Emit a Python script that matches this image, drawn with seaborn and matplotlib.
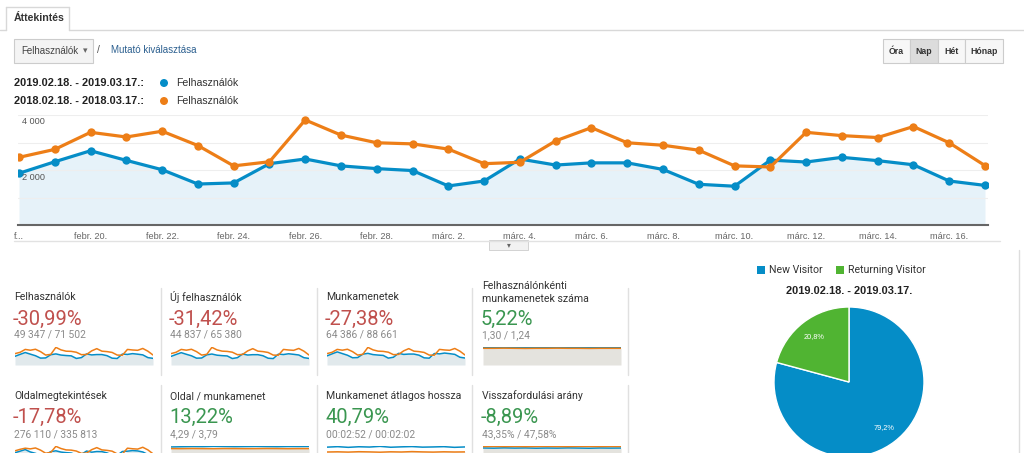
import numpy as np
import pandas as pd
import matplotlib
matplotlib.use("Agg")
import matplotlib.pyplot as plt
import seaborn as sns
from matplotlib.patches import Rectangle, Ellipse
from matplotlib.lines import Line2D

# ---------------- data ----------------
tick_labels = ["f...", "febr. 20.", "febr. 22.", "febr. 24.", "febr. 26.", "febr. 28.",
               "márc. 2.", "márc. 4.", "márc. 6.", "márc. 8.", "márc. 10.", "márc. 12.",
               "márc. 14.", "márc. 16."]
period_cur = "2019.02.18. - 2019.03.17."
period_prev = "2018.02.18. - 2018.03.17."
users_2019 = [1880, 2300, 2700, 2350, 2010, 1490, 1530, 2230, 2400, 2150, 2050, 1980, 1420, 1600,
              2400, 2180, 2260, 2260, 2020, 1480, 1410, 2360, 2290, 2460, 2340, 2190, 1600, 1440]
users_2018 = [2460, 2750, 3370, 3200, 3410, 2890, 2150, 2300, 3820, 3270, 2990, 2950, 2760, 2230,
              2280, 3060, 3540, 2990, 2900, 2720, 2150, 2110, 3370, 3250, 3180, 3580, 2990, 2160]
y_ticks = [2000, 4000]
y_tick_labels = ["2 000", "4 000"]

tile_titles = ["Felhasználók", "Új felhasználók", "Munkamenetek", "Felhasználónkénti\nmunkamenetek száma",
               "Oldalmegtekintések", "Oldal / munkamenet", "Munkamenet átlagos hossza", "Visszafordulási arány"]
tile_changes = ["-30,99%", "-31,42%", "-27,38%", "5,22%", "-17,78%", "13,22%", "40,79%", "-8,89%"]
tile_good = [False, False, False, True, False, True, True, True]
tile_values = ["49 347 / 71 502", "44 837 / 65 380", "64 386 / 88 661", "1,30 / 1,24",
               "276 110 / 335 813", "4,29 / 3,79", "00:02:52 / 00:02:02", "43,35% / 47,58%"]

new_users_2019 = [1700, 2080, 2440, 2120, 1820, 1350, 1380, 2010, 2170, 1940, 1850, 1790, 1280, 1450,
                  2170, 1970, 2040, 2040, 1830, 1340, 1270, 2140, 2070, 2220, 2110, 1980, 1450, 1300]
new_users_2018 = [2250, 2520, 3080, 2930, 3110, 2640, 1960, 2110, 3490, 2990, 2740, 2690, 2530, 2040,
                  2080, 2790, 3230, 2740, 2650, 2480, 1960, 1930, 3080, 2970, 2900, 3270, 2740, 1970]
sessions_2019 = [2440, 2990, 3510, 3060, 2620, 1940, 1990, 2900, 3120, 2790, 2660, 2570, 1840, 2080,
                 3120, 2840, 2930, 2930, 2630, 1920, 1830, 3070, 2980, 3200, 3040, 2850, 2080, 1870]
sessions_2018 = [3050, 3410, 4180, 3970, 4220, 3580, 2660, 2860, 4730, 4060, 3710, 3650, 3430, 2770,
                 2830, 3790, 4390, 3710, 3590, 3370, 2660, 2620, 4180, 4030, 3940, 4430, 3710, 2680]
spu_2019 = [1.30, 1.31, 1.29, 1.30, 1.30, 1.31, 1.30, 1.29, 1.30, 1.31, 1.30, 1.30, 1.29, 1.30]
spu_2018 = [1.24, 1.24, 1.25, 1.24, 1.23, 1.24, 1.24, 1.25, 1.24, 1.24, 1.23, 1.24, 1.24, 1.24]
pv_2019 = [9800, 11200, 12600, 10500, 9300, 7600, 8200, 10800, 11500, 10400, 9900, 9600, 7900, 8400,
           11300, 10300, 10900, 10800, 9700, 7800, 7600, 10900, 11200, 11700, 11400, 10500, 8300, 7400]
pv_2018 = [11500, 12800, 13800, 13200, 14000, 12100, 9400, 10100, 15400, 13500, 12300, 12100, 11300, 9300,
           9500, 12500, 14300, 12300, 11900, 11200, 8800, 8700, 13800, 13300, 13000, 14600, 12300, 8900]
pps_2019 = [4.20, 4.25, 4.30, 4.28, 4.35, 4.31, 4.27, 4.30, 4.33, 4.29, 4.26, 4.31, 4.30, 4.32]
pps_2018 = [3.80, 3.78, 3.82, 3.79, 3.77, 3.81, 3.80, 3.78, 3.79, 3.82, 3.80, 3.77, 3.79, 3.80]
dur_2019 = [170, 175, 168, 174, 171, 178, 169, 173, 176, 170, 172, 175, 168, 172]
dur_2018 = [121, 123, 120, 124, 122, 119, 123, 121, 125, 122, 120, 123, 121, 122]
bounce_2019 = [43.5, 43.0, 43.8, 43.2, 43.6, 42.9, 43.4, 43.1, 43.7, 43.3, 42.8, 43.5, 43.2, 43.4]
bounce_2018 = [47.4, 47.8, 47.5, 47.7, 47.3, 47.6, 47.9, 47.5, 47.4, 47.8, 47.6, 47.5, 47.7, 47.6]
spark_cur = [users_2019, new_users_2019, sessions_2019, spu_2019, pv_2019, pps_2019, dur_2019, bounce_2019]
spark_prev = [users_2018, new_users_2018, sessions_2018, spu_2018, pv_2018, pps_2018, dur_2018, bounce_2018]

pie_labels = ["New Visitor", "Returning Visitor"]
pie_values = [79.2, 20.8]

view_buttons = ["Óra", "Nap", "Hét", "Hónap"]

# ---------------- style ----------------
BLUE = "#058dc7"
ORANGE = "#ed7e17"
GREEN = "#50b432"
RED_TXT = "#c0504d"
GREEN_TXT = "#3a9650"

sns.set_theme(style="white")
plt.rcParams['font.family'] = ['Liberation Sans', 'DejaVu Sans']

W, H = 1024, 453
fig = plt.figure(figsize=(W / 100, H / 100), dpi=100)
fig.patch.set_facecolor("white")


def rect(x0, y0, x1, y1):
    return [x0 / W, 1 - y1 / H, (x1 - x0) / W, (y1 - y0) / H]


def fx(x):
    return x / W


def fy(y):
    return 1 - y / H


def hline(x0, x1, y, color, lw=1.0):
    fig.add_artist(Line2D([fx(x0), fx(x1)], [fy(y), fy(y)], color=color, lw=lw))


def vline(x, y0, y1, color, lw=1.0):
    fig.add_artist(Line2D([fx(x), fx(x)], [fy(y0), fy(y1)], color=color, lw=lw))


def frect(x0, y0, x1, y1, fc, ec, lw=0.8):
    fig.add_artist(Rectangle((fx(x0), fy(y1)), (x1 - x0) / W, (y1 - y0) / H,
                             facecolor=fc, edgecolor=ec, lw=lw, transform=fig.transFigure))


# ---------------- header ----------------
hline(0, 6, 30, "#d8d8d8")
hline(69, W, 30, "#d8d8d8")
vline(6, 7, 30, "#d8d8d8")
vline(69, 7, 30, "#d8d8d8")
hline(6, 69, 7, "#d8d8d8")
fig.text(fx(14), fy(18), "Áttekintés", fontsize=7.6, fontweight="bold", color="#333333", va="center")

frect(14, 39, 93, 63, "#f4f4f4", "#cccccc")
fig.text(fx(21), fy(51), "Felhasználók", fontsize=7.0, color="#444444", va="center")
fig.text(fx(85), fy(51), "▾", fontsize=6.5, color="#666666", va="center", ha="center",
         family=["DejaVu Sans"])
fig.text(fx(97), fy(50), "/", fontsize=7.5, color="#555555", va="center")
fig.text(fx(111), fy(50), "Mutató kiválasztása", fontsize=7.0, color="#2b5f8f", va="center")

# view buttons
btn_edges = [883, 910, 938, 965, 1003]
for i, lab in enumerate(view_buttons):
    fc = "#dcdcdc" if lab == "Nap" else "#f7f7f7"
    frect(btn_edges[i], 39, btn_edges[i + 1], 63, fc, "#cccccc")
    fig.text(fx((btn_edges[i] + btn_edges[i + 1]) / 2), fy(51), lab, fontsize=6.3,
             fontweight="bold", color="#333333", ha="center", va="center")

# legend rows
for yy, per, col in [(83, period_cur, BLUE), (101, period_prev, ORANGE)]:
    fig.text(fx(14), fy(yy), per + ":", fontsize=7.9, fontweight="bold", color="#222222", va="center")
    fig.add_artist(Ellipse((fx(164), fy(yy)), 8 / W, 8 / H, facecolor=col, edgecolor="none",
                           transform=fig.transFigure))
    fig.text(fx(176), fy(yy), "Felhasználók", fontsize=7.6, color="#333333", va="center")

# ---------------- main chart ----------------
ax = fig.add_axes(rect(18, 115, 988, 225))
n = len(users_2019)
df = pd.DataFrame({"day": np.arange(n), "cur": users_2019, "prev": users_2018})
long = df.melt(id_vars="day", var_name="period", value_name="users")
ax.fill_between(df["day"], df["cur"], color="#e6f2f9", zorder=1, lw=0)
sns.lineplot(data=long, x="day", y="users", hue="period", hue_order=["cur", "prev"],
             palette=[BLUE, ORANGE], marker="o", markersize=6, markeredgewidth=0,
             linewidth=2.3, ax=ax, legend=False, zorder=3)
ax.set_xlim(-0.028, n - 1 + 0.084)
ax.set_ylim(0, 4000)
ax.set_yticks([1000, 2000, 3000, 4000])
ax.set_yticklabels([])
ax.yaxis.grid(True, color="#eeeeee", lw=0.8)
ax.set_axisbelow("line")
ax.set_xticks(np.arange(0, n, 2))
ax.set_xticklabels(tick_labels)
ax.tick_params(axis="x", length=0, pad=5, labelsize=6.6, labelcolor="#666666")
ax.tick_params(axis="y", length=0)
ax.set_xlabel("")
ax.set_ylabel("")
for s in ["top", "right", "left"]:
    ax.spines[s].set_visible(False)
ax.spines["bottom"].set_color("#666666")
ax.spines["bottom"].set_linewidth(1.5)
for v, lab in zip(y_ticks, y_tick_labels):
    ax.annotate(lab, xy=(0.004, v), xycoords=("axes fraction", "data"), xytext=(0, -7),
                textcoords="offset pixels", fontsize=6.6, color="#555555", va="center", ha="left")

hline(14, 1000, 241, "#e2e2e2")
frect(489, 240, 528, 250, "#f2f2f2", "#cccccc", lw=0.6)
fig.text(fx(508.5), fy(245), "▾", fontsize=5.5, color="#666666", ha="center", va="center",
         family=["DejaVu Sans"])

# ---------------- metric tiles ----------------
col_x = [14, 170, 326, 482]
row_title_y = [297, 396]
row_pct_y = [319, 417]
row_val_y = [335, 434]
row_spark = [(347, 365), (446, 464)]
for x in [161, 317, 472, 628]:
    vline(x, 288, 375, "#e0e0e0")
    vline(x, 385, 453, "#e0e0e0")

for i in range(8):
    r, c = divmod(i, 4)
    x = col_x[c]
    title = tile_titles[i]
    if "\n" in title:
        l1, l2 = title.split("\n")
        fig.text(fx(x), fy(row_title_y[r] - 11), l1, fontsize=7.6, color="#333333", va="center",
                 family=["Roboto", "DejaVu Sans"])
        fig.text(fx(x), fy(row_title_y[r] + 2), l2, fontsize=7.6, color="#333333", va="center",
                 family=["Roboto", "DejaVu Sans"])
    else:
        fig.text(fx(x), fy(row_title_y[r]), title, fontsize=7.6, color="#333333", va="center",
                 family=["Roboto", "DejaVu Sans"])
    fig.text(fx(x - 1), fy(row_pct_y[r]), tile_changes[i], fontsize=14.5,
             color=GREEN_TXT if tile_good[i] else RED_TXT, va="center",
             family=["Roboto", "DejaVu Sans"])
    fig.text(fx(x), fy(row_val_y[r]), tile_values[i], fontsize=7.4, color="#8a8a8a", va="center",
             family=["Roboto", "DejaVu Sans"])

    sy0, sy1 = row_spark[r]
    sax = fig.add_axes(rect(x + 1, sy0, x + 139, sy1))
    cur = np.array(spark_cur[i], dtype=float)
    prev = np.array(spark_prev[i], dtype=float)
    sdf = pd.DataFrame({"t": np.arange(len(cur)), "cur": cur, "prev": prev})
    slong = sdf.melt(id_vars="t", var_name="period", value_name="v")
    flat = i in (3, 5, 6, 7)
    sax.fill_between(sdf["t"], np.minimum(cur, prev), color="#e4e3de" if flat else "#e1e9ec",
                     lw=0, zorder=1)
    sns.lineplot(data=slong, x="t", y="v", hue="period", hue_order=["cur", "prev"],
                 palette=[BLUE, ORANGE], linewidth=1.1, ax=sax, legend=False, zorder=3)
    sax.set_xlim(0, len(cur) - 1)
    sax.set_ylim(0, max(cur.max(), prev.max()) * 1.02)
    sax.set_axis_off()

# ---------------- pie ----------------
lx = [757, 836]
for xx, lab, col in zip(lx, pie_labels, [BLUE, GREEN]):
    frect(xx, 266, xx + 8, 274, col, "none")
    fig.text(fx(xx + 12), fy(270), lab, fontsize=7.6, color="#333333", va="center",
             family=["Roboto", "DejaVu Sans"])
fig.text(fx(849), fy(291), period_cur, fontsize=7.9, fontweight="bold", color="#222222",
         ha="center", va="center")
vline(1019, 250, 453, "#dddddd")

pax = fig.add_axes(rect(774, 307, 924, 457))
pax.pie(pie_values, colors=[BLUE, GREEN], startangle=90, counterclock=False,
        wedgeprops=dict(edgecolor="white", linewidth=1.0),
        autopct=lambda p: f"{p:.1f}%".replace(".", ","), pctdistance=0.77,
        textprops=dict(color="white", fontsize=5.3))
pax.set_xlim(-1.0, 1.0)
pax.set_ylim(-1.0, 1.0)
pax.set_aspect("equal")
pax.set_axis_off()

fig.savefig("out.png", dpi=100, facecolor="white")
